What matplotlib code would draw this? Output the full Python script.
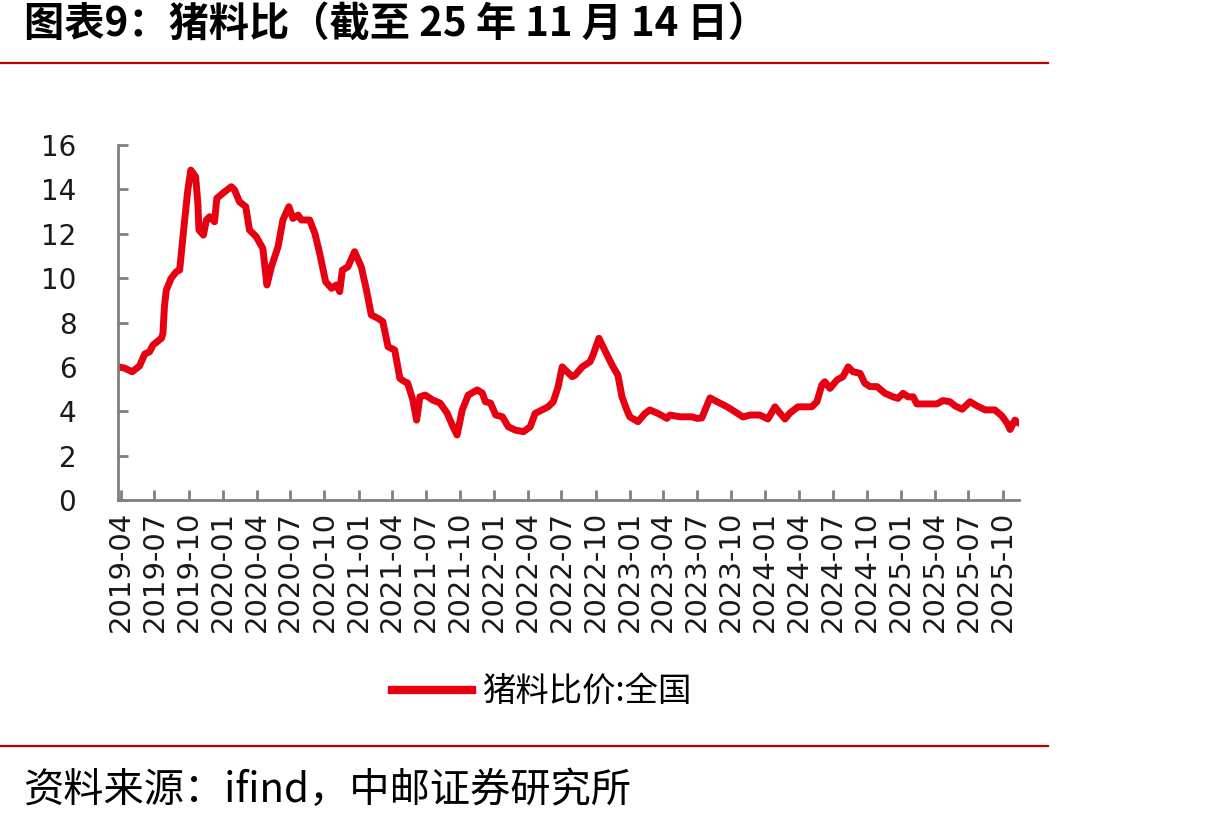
import matplotlib
matplotlib.use("Agg")
import matplotlib.pyplot as plt
import matplotlib.dates as mdates
import pandas as pd
from matplotlib.lines import Line2D

# ---- data ----
dates = [
    "2019-03-25", "2019-04-11", "2019-05-02", "2019-05-22", "2019-06-05", "2019-06-18", "2019-06-27",
    "2019-07-20", "2019-07-24", "2019-07-28", "2019-08-02", "2019-08-15", "2019-08-29", "2019-09-07",
    "2019-09-20", "2019-09-29", "2019-10-07", "2019-10-20", "2019-10-26", "2019-10-29", "2019-11-10",
    "2019-11-18", "2019-11-27", "2019-12-10", "2019-12-16", "2020-01-06", "2020-01-24", "2020-02-02",
    "2020-02-15", "2020-03-03", "2020-03-13", "2020-03-31", "2020-04-18", "2020-04-29", "2020-05-11",
    "2020-05-29", "2020-06-11", "2020-06-27", "2020-07-08", "2020-07-22", "2020-07-31", "2020-08-22",
    "2020-09-05", "2020-09-18", "2020-10-04", "2020-10-20", "2020-11-02", "2020-11-11", "2020-11-18",
    "2020-12-03", "2020-12-21", "2021-01-08", "2021-01-22", "2021-02-04", "2021-02-22", "2021-03-07",
    "2021-03-21", "2021-04-08", "2021-04-22", "2021-05-05", "2021-05-13", "2021-05-27", "2021-06-06",
    "2021-06-15", "2021-06-29", "2021-07-20", "2021-08-08", "2021-08-27", "2021-09-12", "2021-09-23",
    "2021-10-07", "2021-10-23", "2021-11-16", "2021-11-30", "2021-12-08", "2021-12-22", "2022-01-05",
    "2022-01-23", "2022-02-08", "2022-02-27", "2022-03-21", "2022-04-08", "2022-04-21", "2022-05-10",
    "2022-05-26", "2022-06-09", "2022-06-22", "2022-07-03", "2022-07-16", "2022-07-30", "2022-08-07",
    "2022-08-26", "2022-09-16", "2022-09-24", "2022-10-10", "2022-10-21", "2022-11-03", "2022-11-17",
    "2022-11-30", "2022-12-11", "2022-12-24", "2023-01-01", "2023-01-23", "2023-02-11", "2023-02-24",
    "2023-03-18", "2023-04-11", "2023-04-19", "2023-05-16", "2023-06-17", "2023-07-01", "2023-07-14",
    "2023-08-05", "2023-08-24", "2023-09-20", "2023-10-11", "2023-11-02", "2023-11-21", "2023-12-17",
    "2024-01-08", "2024-01-27", "2024-02-09", "2024-02-23", "2024-03-07", "2024-03-29", "2024-05-05",
    "2024-05-19", "2024-06-01", "2024-06-09", "2024-06-23", "2024-07-12", "2024-07-28", "2024-08-11",
    "2024-08-24", "2024-09-12", "2024-09-25", "2024-10-09", "2024-10-28", "2024-11-18", "2024-12-10",
    "2024-12-23", "2025-01-06", "2025-01-19", "2025-02-02", "2025-02-12", "2025-04-07", "2025-04-23",
    "2025-05-12", "2025-05-26", "2025-06-14", "2025-07-05", "2025-07-24", "2025-08-15", "2025-09-10",
    "2025-09-29", "2025-10-13", "2025-10-21", "2025-11-03", "2025-11-14",
]
ratio = [
    6.00, 5.95, 5.78, 6.04, 6.58, 6.68, 6.98,
    7.29, 7.51, 8.71, 9.46, 9.99, 10.29, 10.36,
    12.54, 13.97, 14.87, 14.57, 13.37, 12.17, 11.94,
    12.62, 12.77, 12.54, 13.60, 13.89, 14.12, 13.97,
    13.44, 13.22, 12.17, 11.87, 11.34, 9.69, 10.51,
    11.42, 12.62, 13.22, 12.69, 12.84, 12.62, 12.62,
    12.02, 11.12, 9.84, 9.54, 9.69, 9.39, 10.36,
    10.51, 11.19, 10.51, 9.46, 8.34, 8.19, 8.04,
    6.91, 6.76, 5.48, 5.33, 5.27, 4.50, 3.60,
    4.65, 4.73, 4.50, 4.37, 3.92, 3.30, 2.93,
    4.06, 4.73, 4.96, 4.82, 4.43, 4.37, 3.83,
    3.75, 3.30, 3.15, 3.08, 3.30, 3.90, 4.06,
    4.20, 4.43, 5.10, 6.00, 5.78, 5.56, 5.63,
    6.00, 6.23, 6.53, 7.29, 6.91, 6.46, 6.00,
    5.63, 4.65, 4.06, 3.75, 3.53, 3.90, 4.06,
    3.90, 3.68, 3.83, 3.75, 3.75, 3.68, 3.70,
    4.60, 4.43, 4.20, 3.98, 3.74, 3.83, 3.83,
    3.65, 4.20, 3.92, 3.65, 3.92, 4.20, 4.20,
    4.43, 5.18, 5.33, 5.03, 5.41, 5.56, 6.00,
    5.78, 5.71, 5.26, 5.11, 5.11, 4.81, 4.65,
    4.58, 4.81, 4.65, 4.65, 4.33, 4.33, 4.48,
    4.43, 4.24, 4.09, 4.43, 4.24, 4.06, 4.06,
    3.79, 3.46, 3.18, 3.60, 3.46,
]
series_name = "猪料比价:全国"
y_ticks = [0, 2, 4, 6, 8, 10, 12, 14, 16]
x_tick_start, x_tick_end = "2019-04-01", "2025-10-01"
title = "图表9：猪料比（截至 25 年 11 月 14 日）"
source = "资料来源：ifind，中邮证券研究所"

# ---- figure ----
W, H = 1228, 822
fig = plt.figure(figsize=(W / 100, H / 100), dpi=100)
fig.patch.set_facecolor("white")

RED = "#E60012"
DARKRED = "#C00000"
GRAY = "#7F7F7F"
cjk = ["Noto Sans CJK SC", "DejaVu Sans"]

ax = fig.add_axes([118 / W, 1 - 500 / H, (1019 - 118) / W, (500 - 145) / H])
x = pd.to_datetime(dates)
ax.plot(x, ratio, color=RED, lw=5.0, solid_joinstyle="round", solid_capstyle="round")

ax.set_xlim(x[0], x[-1])
ax.set_ylim(0, 16)
ax.set_yticks(y_ticks)
ticks = pd.date_range(x_tick_start, x_tick_end, freq="QS-JAN")
ax.set_xticks(ticks)
ax.xaxis.set_major_formatter(mdates.DateFormatter("%Y-%m"))

for s in ["top", "right"]:
    ax.spines[s].set_visible(False)
for s in ["left", "bottom"]:
    ax.spines[s].set_color(GRAY)
    ax.spines[s].set_linewidth(2.0)

ax.tick_params(axis="y", direction="in", length=7, width=2.0, color=GRAY,
               labelsize=20, pad=30, labelcolor="#1a1a1a")
ax.tick_params(axis="x", direction="in", length=7, width=2.0, color=GRAY,
               labelsize=21, pad=8, labelrotation=90, labelcolor="#1a1a1a")
for lab in ax.get_yticklabels() + ax.get_xticklabels():
    lab.set_family("DejaVu Sans")

# legend
handle = Line2D([], [], color=RED, lw=6)
fig.legend([handle], [series_name], loc="center", bbox_to_anchor=(542 / W, 1 - 692 / H),
           frameon=False, prop={"family": cjk, "size": 24},
           handlelength=2.4, handletextpad=0.3)

# title, source and red rules
fig.text(24 / W, 1 - 24 / H, title, ha="left", va="center", fontsize=29,
         fontweight="bold", family=cjk, color="black")
fig.add_artist(Line2D([0, 1048 / W], [1 - 63 / H, 1 - 63 / H], color=DARKRED, lw=1.6))
fig.add_artist(Line2D([0, 1048 / W], [1 - 746 / H, 1 - 746 / H], color=DARKRED, lw=1.6))
fig.text(24 / W, 1 - 790 / H, source, ha="left", va="center", fontsize=29,
         family=cjk, color="black")

fig.savefig("out.png", dpi=100, facecolor="white")
